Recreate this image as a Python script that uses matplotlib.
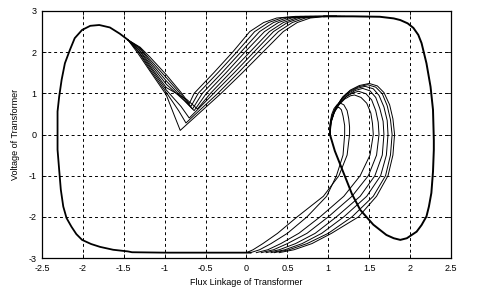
import matplotlib
matplotlib.use("Agg")
import matplotlib.pyplot as plt

# ---------------- data ----------------
# shared path: bottom line -> left side -> left peak
left_x = [0.05, -0.5, -1.0, -1.40, -1.45, -1.63, -1.79, -1.90, -2.01, -2.08, -2.14, -2.20,
          -2.24, -2.27, -2.29, -2.31, -2.31, -2.31, -2.29, -2.26, -2.22, -2.16, -2.10,
          -2.01, -1.91, -1.80, -1.67, -1.55, -1.45]
left_y = [-2.87, -2.87, -2.87, -2.86, -2.84, -2.80, -2.73, -2.66, -2.56, -2.42, -2.24, -2.03,
          -1.75, -1.34, -0.86, -0.37, 0.0, 0.56, 0.92, 1.33, 1.73, 2.05, 2.34,
          2.54, 2.64, 2.66, 2.60, 2.45, 2.30]

# V shaped branches from the left peak up to the top plateau
v_x = [
    [-1.45, -1.30, -1.18, -0.98, -0.80, -0.70, -0.64, -0.40, -0.17, 0.04, 0.21, 0.37, 0.60, 1.10],
    [-1.45, -1.30, -1.18, -0.98, -0.79, -0.68, -0.59, -0.35, -0.12, 0.10, 0.27, 0.43, 0.66, 1.10],
    [-1.45, -1.30, -1.18, -0.98, -0.78, -0.66, -0.54, -0.30, -0.07, 0.16, 0.33, 0.49, 0.72, 1.10],
    [-1.45, -1.31, -1.18, -0.98, -0.76, -0.64, -0.49, -0.25, -0.02, 0.22, 0.39, 0.55, 0.78, 1.10],
    [-1.45, -1.31, -1.18, -0.98, -0.73, -0.60, -0.44, -0.20, 0.04, 0.28, 0.45, 0.61, 0.84, 1.10],
    [-1.45, -1.32, -1.18, -0.98, -0.80, -0.70, -0.40, -0.15, 0.09, 0.33, 0.50, 0.66, 0.89, 1.10],
    [-1.45, -1.32, -1.18, -0.98, -0.83, -0.74, -0.35, -0.10, 0.14, 0.39, 0.56, 0.72, 0.94, 1.15],
    [-1.45, -1.33, -1.18, -0.98, -0.88, -0.81, -0.31, -0.05, 0.20, 0.45, 0.62, 0.78, 1.00, 1.20],
]
v_y = [
    [2.30, 2.12, 1.88, 1.45, 1.02, 0.75, 1.00, 1.50, 2.00, 2.50, 2.72, 2.83, 2.87, 2.87],
    [2.30, 2.10, 1.82, 1.38, 0.95, 0.68, 1.00, 1.50, 2.00, 2.50, 2.72, 2.83, 2.87, 2.87],
    [2.30, 2.08, 1.77, 1.30, 0.88, 0.62, 1.00, 1.50, 2.00, 2.50, 2.72, 2.83, 2.87, 2.87],
    [2.30, 2.06, 1.72, 1.22, 0.82, 0.58, 1.00, 1.50, 2.00, 2.50, 2.72, 2.83, 2.87, 2.87],
    [2.30, 2.04, 1.67, 1.14, 0.85, 0.62, 1.00, 1.50, 2.00, 2.50, 2.72, 2.83, 2.87, 2.87],
    [2.30, 2.02, 1.63, 1.08, 0.68, 0.40, 1.00, 1.50, 2.00, 2.50, 2.72, 2.83, 2.87, 2.87],
    [2.30, 2.00, 1.58, 1.02, 0.58, 0.28, 1.00, 1.50, 2.00, 2.50, 2.72, 2.83, 2.87, 2.87],
    [2.30, 1.98, 1.54, 0.96, 0.45, 0.10, 1.00, 1.50, 2.00, 2.50, 2.72, 2.83, 2.87, 2.87],
]

# shared path: top plateau -> right side -> lower right minimum -> up to the small loops
right_x = [0.95, 1.30, 1.63, 1.80, 1.88, 1.97, 2.04, 2.10, 2.14, 2.20, 2.25, 2.28, 2.29,
           2.29, 2.28, 2.26, 2.23, 2.20, 2.14, 2.08, 1.96, 1.88, 1.80, 1.71, 1.55, 1.39,
           1.29, 1.18, 1.08, 1.02]
right_y = [2.87, 2.87, 2.86, 2.82, 2.78, 2.70, 2.59, 2.42, 2.22, 1.73, 1.16, 0.60, -0.13,
           -0.37, -0.90, -1.42, -1.75, -1.99, -2.20, -2.36, -2.52, -2.56, -2.52, -2.44,
           -2.19, -1.83, -1.45, -0.90, -0.40, 0.0]

# small loops (left side, peak, right side) followed by the fall to the bottom line
loop_x = [
    [1.02, 1.02, 1.04, 1.07, 1.11, 1.15, 1.19, 1.23, 1.25, 1.26, 1.26,
     1.23, 1.13, 0.94, 0.62, 0.38, 0.20, 0.08, 0.0],
    [1.02, 1.02, 1.04, 1.07, 1.10, 1.13, 1.16, 1.18, 1.20, 1.20,
     1.18, 1.10, 0.98, 0.74, 0.50, 0.30, 0.16, 0.05],
    [1.02, 1.03, 1.07, 1.13, 1.20, 1.27, 1.32, 1.40, 1.47, 1.52, 1.54, 1.55,
     1.51, 1.39, 1.19, 0.90, 0.64, 0.42, 0.26, 0.12],
    [1.02, 1.03, 1.07, 1.14, 1.22, 1.30, 1.37, 1.46, 1.53, 1.58, 1.61, 1.62,
     1.59, 1.49, 1.29, 1.00, 0.74, 0.50, 0.33, 0.18],
    [1.02, 1.03, 1.08, 1.15, 1.24, 1.33, 1.42, 1.51, 1.58, 1.63, 1.67, 1.68,
     1.66, 1.57, 1.39, 1.10, 0.84, 0.60, 0.40, 0.24],
    [1.02, 1.03, 1.08, 1.16, 1.25, 1.35, 1.45, 1.55, 1.62, 1.68, 1.72, 1.73,
     1.71, 1.64, 1.47, 1.19, 0.92, 0.68, 0.47, 0.30],
    [1.02, 1.03, 1.09, 1.17, 1.26, 1.37, 1.48, 1.58, 1.66, 1.72, 1.76, 1.78,
     1.76, 1.70, 1.55, 1.29, 1.00, 0.74, 0.52, 0.34],
    [1.02, 1.04, 1.10, 1.18, 1.27, 1.38, 1.50, 1.60, 1.68, 1.75, 1.79, 1.81,
     1.79, 1.73, 1.59, 1.37, 1.04, 0.80, 0.58, 0.40],
]
loop_y = [
    [0.0, 0.25, 0.48, 0.63, 0.73, 0.76, 0.72, 0.58, 0.38, 0.18, 0.0,
     -0.5, -1.0, -1.5, -2.0, -2.4, -2.65, -2.80, -2.87],
    [0.0, 0.22, 0.42, 0.57, 0.64, 0.66, 0.60, 0.45, 0.22, 0.0,
     -0.5, -1.0, -1.5, -2.0, -2.4, -2.65, -2.80, -2.87],
    [0.0, 0.26, 0.52, 0.72, 0.86, 0.94, 0.96, 0.90, 0.76, 0.52, 0.27, 0.0,
     -0.5, -1.0, -1.5, -2.0, -2.4, -2.65, -2.80, -2.87],
    [0.0, 0.28, 0.55, 0.76, 0.92, 1.01, 1.05, 0.99, 0.84, 0.58, 0.30, 0.0,
     -0.5, -1.0, -1.5, -2.0, -2.4, -2.65, -2.80, -2.87],
    [0.0, 0.30, 0.58, 0.80, 0.96, 1.07, 1.12, 1.06, 0.90, 0.63, 0.32, 0.0,
     -0.5, -1.0, -1.5, -2.0, -2.4, -2.65, -2.80, -2.87],
    [0.0, 0.32, 0.62, 0.85, 1.01, 1.12, 1.17, 1.11, 0.95, 0.67, 0.34, 0.0,
     -0.5, -1.0, -1.5, -2.0, -2.4, -2.65, -2.80, -2.87],
    [0.0, 0.33, 0.65, 0.89, 1.05, 1.16, 1.21, 1.15, 0.99, 0.70, 0.36, 0.0,
     -0.5, -1.0, -1.5, -2.0, -2.4, -2.65, -2.80, -2.87],
    [0.0, 0.35, 0.68, 0.92, 1.08, 1.19, 1.24, 1.18, 1.02, 0.72, 0.38, 0.0,
     -0.5, -1.0, -1.5, -2.0, -2.4, -2.65, -2.80, -2.87],
]

x_ticks = [-2.5, -2, -1.5, -1, -0.5, 0, 0.5, 1, 1.5, 2, 2.5]
x_tick_labels = ["-2.5", "-2", "-1.5", "-1", "-0.5", "0", "0.5", "1", "1.5", "2", "2.5"]
y_ticks = [-3, -2, -1, 0, 1, 2, 3]
y_tick_labels = ["-3", "-2", "-1", "0", "1", "2", "3"]

# ---------------- figure ----------------
plt.rcParams['font.family'] = ['Liberation Sans', 'DejaVu Sans']
plt.rcParams['axes.unicode_minus'] = False
fig = plt.figure(figsize=(4.81, 2.96), dpi=100)
ax = fig.add_axes([42 / 481, 38 / 296, 409 / 481, 247 / 296])

ax.plot(left_x, left_y, color='black', lw=1.3)
for xs, ys in zip(v_x, v_y):
    ax.plot(xs, ys, color='black', lw=0.7)
ax.plot(right_x, right_y, color='black', lw=1.4)
for xs, ys in zip(loop_x, loop_y):
    ax.plot(xs, ys, color='black', lw=0.7)

ax.set_xlim(-2.5, 2.5)
ax.set_ylim(-3, 3)
ax.set_xticks(x_ticks)
ax.set_xticklabels(x_tick_labels)
ax.set_yticks(y_ticks)
ax.set_yticklabels(y_tick_labels)
ax.tick_params(direction='in', length=3, width=0.6, labelsize=6.5, pad=4,
               top=True, right=True)
ax.grid(True, color='black', linestyle=(0, (3, 3)), lw=0.7)
for s in ax.spines.values():
    s.set_linewidth(0.9)

ax.set_xlabel("Flux Linkage of Transformer", fontsize=6.5, labelpad=4)
ax.set_ylabel("Voltage of Transformer", fontsize=6.5, labelpad=6)

fig.savefig("out.png", dpi=100)
